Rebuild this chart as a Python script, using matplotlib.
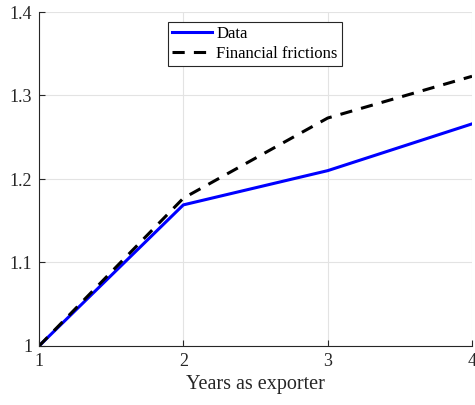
import matplotlib
matplotlib.use("Agg")
import matplotlib.pyplot as plt

years = [1, 2, 3, 4]
data = [1.0, 1.169, 1.210, 1.266]
frictions = [1.0, 1.177, 1.273, 1.323]

plt.rcParams['font.family'] = ['Liberation Serif', 'DejaVu Serif']

fig = plt.figure(figsize=(4.75, 4.05), dpi=100)
ax = fig.add_axes([39 / 475, 1 - 346 / 405, (472 - 39) / 475, (346 - 12) / 405])

ax.plot(years, data, color='#0000ff', lw=2.2, label='Data')
ax.plot(years, frictions, color='black', lw=2.2, ls=(0, (4, 3)), label='Financial frictions')

ax.set_xlim(1, 4)
ax.set_ylim(1, 1.4)
ax.set_xticks([1, 2, 3, 4])
ax.set_yticks([1, 1.1, 1.2, 1.3, 1.4])
ax.set_yticklabels(['1', '1.1', '1.2', '1.3', '1.4'])
ax.grid(True, color='#e3e3e3', lw=0.8)
ax.set_axisbelow(True)
for s in ['top', 'right']:
    ax.spines[s].set_visible(False)
for s in ['left', 'bottom']:
    ax.spines[s].set_color('#262626')
    ax.spines[s].set_linewidth(0.8)
ax.tick_params(direction='in', length=4, width=0.8, colors='#262626', labelsize=13, pad=5)
ax.set_xlabel('Years as exporter', fontsize=14.5, color='#262626', labelpad=4)

leg = ax.legend(loc='upper left', bbox_to_anchor=(0.298, 0.97), fontsize=12, frameon=True,
                fancybox=False, edgecolor='#262626', framealpha=1, handlelength=2.4,
                borderpad=0.25, labelspacing=0.2, handletextpad=0.25, borderaxespad=0)
leg.get_frame().set_linewidth(0.8)

fig.savefig('out.png', dpi=100)
